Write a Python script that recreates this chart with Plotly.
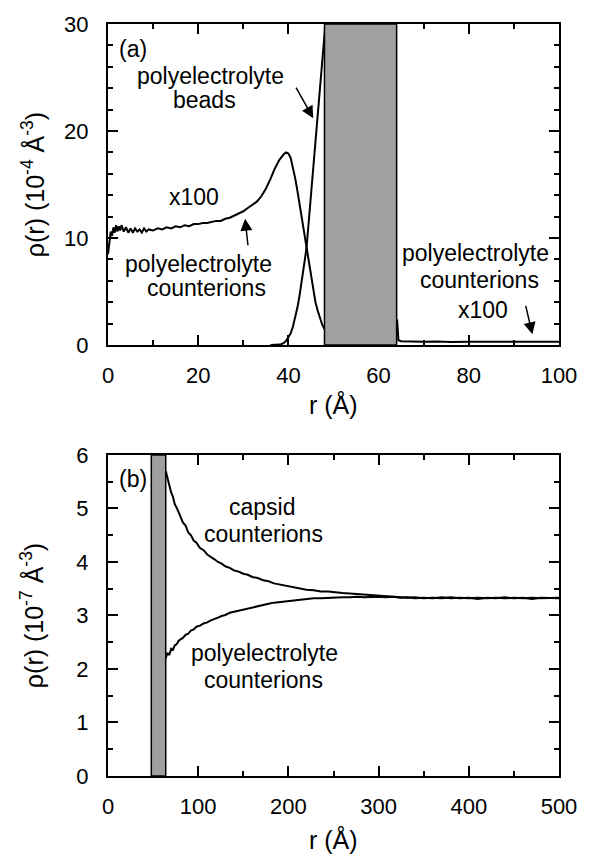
import plotly.graph_objects as go

# ---------------- data: panel (a) ----------------
r_ci_in = [0, 0.3, 0.6, 0.9, 1.2, 1.5, 1.8, 2.1, 2.4, 2.7, 3.0, 3.5, 4, 4.5, 5, 5.5, 6, 6.5,
           7, 7.5, 8, 8.5, 9, 10, 11, 12, 13, 14, 15, 16, 17, 18, 19, 20, 21, 22, 23, 24,
           25, 26, 27, 28, 29, 30, 31, 32, 33, 34, 35, 36, 37, 38, 38.5, 39, 39.5, 40,
           40.5, 41, 41.5, 42, 42.5, 43, 43.5, 44, 44.5, 45, 45.5, 46, 46.5, 47, 47.5, 48]
ci_in = [8.5, 9.8, 10.6, 10.2, 11.0, 10.5, 11.2, 10.6, 11.1, 10.7, 11.2, 10.6, 11.0, 10.5,
         10.9, 10.5, 10.9, 10.6, 10.8, 10.5, 10.9, 10.6, 10.8, 10.7, 10.9, 10.8, 11.0, 10.9,
         11.1, 11.0, 11.2, 11.1, 11.3, 11.3, 11.4, 11.4, 11.5, 11.6, 11.6, 11.8, 11.9, 12.1,
         12.3, 12.5, 12.8, 13.1, 13.4, 13.9, 14.6, 15.5, 16.5, 17.3, 17.6, 17.85, 18.0, 17.9,
         17.5, 16.6, 15.6, 14.4, 13.1, 11.7, 10.3, 9.0, 7.6, 6.2, 5.0, 4.0, 3.2, 2.5, 1.9, 1.5]

r_ci_out = [64.1, 64.4, 65, 67, 70, 73, 76, 80, 84, 88, 92, 96, 100]
ci_out = [2.4, 0.45, 0.35, 0.32, 0.30, 0.33, 0.29, 0.31, 0.30, 0.32, 0.30, 0.31, 0.30]

r_beads = [36, 37, 38, 38.5, 39, 39.5, 40, 40.5, 41, 41.5, 42, 42.5, 43, 43.5, 44, 44.5,
           45, 45.5, 46, 46.5, 47, 47.5, 48, 48.5]
beads = [0, 0, 0.04, 0.1, 0.2, 0.4, 0.7, 1.1, 1.7, 2.5, 3.5, 4.7, 6.0, 7.5, 9.0, 11.5,
         14.0, 16.5, 19.0, 21.5, 24.0, 26.5, 29.0, 31.5]

# ---------------- data: panel (b) ----------------
r_b = [64, 66, 68, 70, 72, 74, 76, 78, 80, 83, 86, 89, 92, 95, 98, 102, 106, 110, 114, 118,
       122, 126, 130, 135, 140, 145, 150, 155, 160, 166, 172, 178, 184, 190, 196, 202, 208,
       214, 220, 228, 236, 244, 252, 260, 268, 276, 284, 292, 300, 308, 316, 324, 332, 340,
       350, 360, 370, 380, 390, 400, 410, 420, 430, 440, 450, 460, 470, 480, 490, 500]
capsid = [5.70, 5.55, 5.45, 5.30, 5.22, 5.08, 5.02, 4.92, 4.86, 4.74, 4.68, 4.55, 4.50, 4.40,
          4.36, 4.26, 4.22, 4.14, 4.10, 4.05, 4.00, 3.97, 3.92, 3.89, 3.84, 3.82, 3.78, 3.76,
          3.72, 3.70, 3.66, 3.64, 3.60, 3.58, 3.55, 3.53, 3.51, 3.50, 3.48, 3.47, 3.45, 3.45,
          3.43, 3.42, 3.41, 3.40, 3.39, 3.38, 3.38, 3.36, 3.36, 3.34, 3.33, 3.34, 3.32, 3.33,
          3.32, 3.34, 3.32, 3.33, 3.31, 3.33, 3.32, 3.34, 3.32, 3.33, 3.31, 3.33, 3.32, 3.32]
pe_ci = [2.20, 2.30, 2.26, 2.38, 2.36, 2.44, 2.46, 2.52, 2.55, 2.58, 2.64, 2.66, 2.72, 2.74,
         2.79, 2.81, 2.85, 2.87, 2.91, 2.93, 2.96, 2.99, 3.01, 3.05, 3.07, 3.10, 3.12, 3.14,
         3.16, 3.18, 3.20, 3.22, 3.24, 3.25, 3.27, 3.28, 3.29, 3.30, 3.31, 3.32, 3.32, 3.33,
         3.34, 3.34, 3.34, 3.35, 3.34, 3.35, 3.35, 3.34, 3.35, 3.33, 3.34, 3.32, 3.33, 3.32,
         3.34, 3.32, 3.33, 3.32, 3.33, 3.32, 3.33, 3.32, 3.33, 3.32, 3.33, 3.32, 3.33, 3.33]

band = [48, 64]

FONT = "Liberation Sans, Arial, Helvetica, sans-serif"
FS = 22      # tick labels
FA = 23      # annotations
FT = 25      # axis titles
line = dict(color="black", width=2)

fig = go.Figure()
fig.add_trace(go.Scatter(x=r_ci_in, y=ci_in, mode="lines", line=line, xaxis="x", yaxis="y"))
fig.add_trace(go.Scatter(x=r_beads, y=beads, mode="lines", line=line, xaxis="x", yaxis="y"))
fig.add_trace(go.Scatter(x=r_ci_out, y=ci_out, mode="lines", line=line, xaxis="x", yaxis="y"))
fig.add_trace(go.Scatter(x=r_b, y=capsid, mode="lines", line=line, xaxis="x2", yaxis="y2"))
fig.add_trace(go.Scatter(x=r_b, y=pe_ci, mode="lines", line=line, xaxis="x2", yaxis="y2"))

shapes = [
    dict(type="rect", xref="x", yref="y", x0=band[0], x1=band[1], y0=0, y1=30,
         fillcolor="#a0a0a0", line=dict(color="black", width=1.5), layer="above"),
    dict(type="rect", xref="x2", yref="y2", x0=band[0], x1=band[1], y0=0, y1=6,
         fillcolor="#a0a0a0", line=dict(color="black", width=1.5), layer="above"),
]

def axis(rng, dtick, minor, domain, anchor, standoff):
    return dict(range=rng, dtick=dtick, tick0=0, domain=domain, anchor=anchor,
                showgrid=False, zeroline=False, showline=True, linecolor="black",
                linewidth=2, mirror="allticks", ticks="inside", ticklen=10, tickwidth=1.5,
                tickcolor="black", ticklabelstandoff=standoff,
                tickfont=dict(family=FONT, size=FS, color="black"),
                minor=dict(ticks="inside", dtick=minor, ticklen=5, tickwidth=1.5,
                           tickcolor="black", showgrid=False))

top_dom = [0.5731, 1.0]
bot_dom = [0.0, 0.4269]

ann = []
def txt(t, x, y, xr, yr, size=FA, **kw):
    d = dict(text=t, x=x, y=y, xref=xr, yref=yr, showarrow=False,
             font=dict(family=FONT, size=size, color="black"), xanchor="center", yanchor="middle")
    d.update(kw)
    ann.append(d)

# panel (a) labels
txt("(a)", 5.6, 27.7, "x", "y")
txt("polyelectrolyte", 22.7, 25.1, "x", "y")
txt("beads", 21.3, 22.9, "x", "y")
txt("x100", 19.1, 13.8, "x", "y")
txt("polyelectrolyte", 20.1, 7.6, "x", "y")
txt("counterions", 21.9, 5.3, "x", "y")
txt("polyelectrolyte", 81.4, 8.6, "x", "y")
txt("counterions", 82.3, 6.1, "x", "y")
txt("x100", 83.2, 3.3, "x", "y")
# panel (b) labels
txt("(b)", 28.1, 5.55, "x2", "y2")
txt("capsid", 170.8, 5.02, "x2", "y2")
txt("counterions", 172.9, 4.52, "x2", "y2")
txt("polyelectrolyte", 173.2, 2.30, "x2", "y2")
txt("counterions", 172.1, 1.80, "x2", "y2")

# axis titles
txt("r (Å)", 0.5, (776 - 401) / 759, "paper", "paper", size=FT)
txt("r (Å)", 0.5, (776 - 840) / 759, "paper", "paper", size=FT)
txt("ρ(r) (10<sup>-4</sup> Å<sup>-3</sup>)", (31 - 108) / 461, (776 - 179) / 759,
    "paper", "paper", size=FT, textangle=-90)
txt("ρ(r) (10<sup>-7</sup> Å<sup>-3</sup>)", (31 - 108) / 461, (776 - 614) / 759,
    "paper", "paper", size=FT, textangle=-90)

# arrows
def arrow(x, y, ax, ay, xr, yr):
    ann.append(dict(text="", x=x, y=y, xref=xr, yref=yr, ax=ax, ay=ay, showarrow=True,
                    arrowhead=2, arrowsize=1.6, arrowwidth=1.5, arrowcolor="black"))

arrow(45.5, 21.2, -18, -32, "x", "y")
arrow(30.4, 11.8, 3, 28, "x", "y")
arrow(94.1, 1.0, -7, -30, "x", "y")

fig.update_layout(
    width=589, height=860,
    margin=dict(l=108, r=20, t=17, b=84),
    paper_bgcolor="white", plot_bgcolor="white",
    showlegend=False,
    xaxis=axis([0, 100], 20, 10, [0, 1], "y", 10),
    yaxis=axis([0, 30], 10, 2, top_dom, "x", 13),
    xaxis2=axis([0, 500], 100, 50, [0, 1], "y2", 10),
    yaxis2=axis([0, 6], 1, 0.5, bot_dom, "x2", 13),
    shapes=shapes,
    annotations=ann,
)

fig.write_html("out.html")
